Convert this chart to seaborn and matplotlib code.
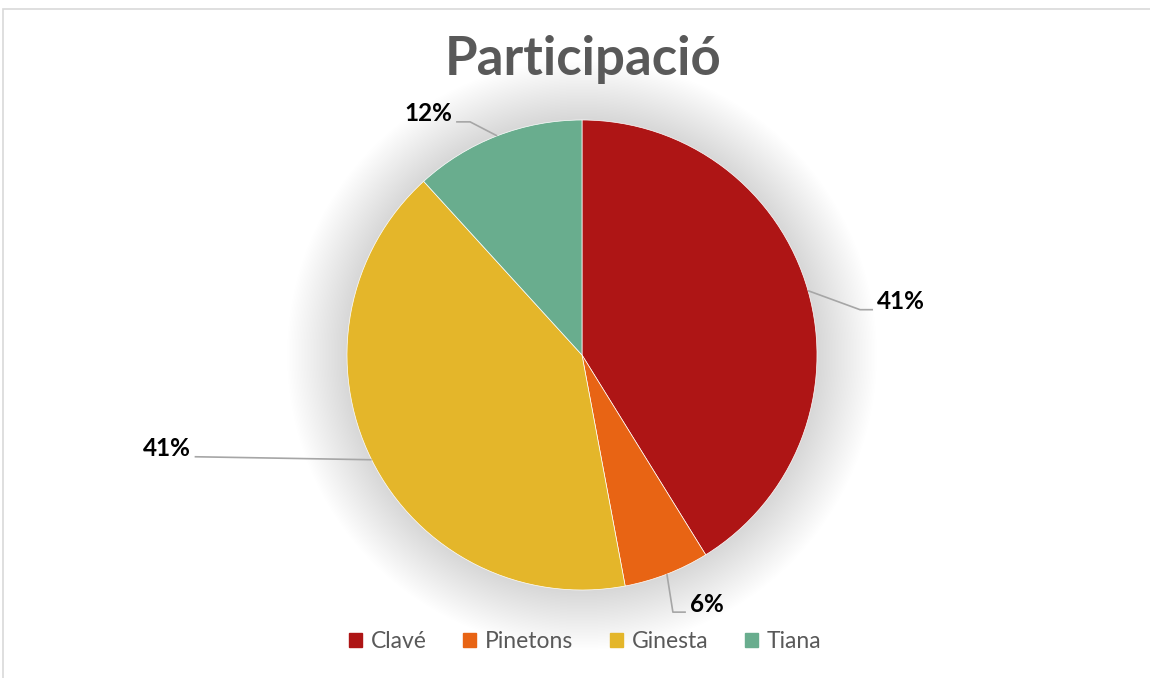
import numpy as np
import matplotlib
matplotlib.use("Agg")
import matplotlib.pyplot as plt
import seaborn as sns
from matplotlib.patches import Rectangle, Circle

categories = ["Clavé", "Pinetons", "Ginesta", "Tiana"]
values = [14, 2, 14, 4]
colors_hex = ["#AE1515", "#E86414", "#E4B62A", "#69AD8E"]
title = "Participació"

sns.set_theme(style="white")
plt.rcParams['font.family'] = ['Lato', 'DejaVu Sans']
palette = sns.color_palette(colors_hex)

W, H = 1150, 678
fig = plt.figure(figsize=(W / 100, H / 100), dpi=100)
ax = fig.add_axes([0, 0, 1, 1])
ax.set_xlim(0, W)
ax.set_ylim(0, H)
ax.set_aspect("equal")
ax.axis("off")

# frame
fig.patches.append(Rectangle((3 / W, -0.1), 1.2, (H - 9) / H + 0.1, transform=fig.transFigure,
                             fill=False, edgecolor="#D9D9D9", lw=1.2))

cx, cy, R = 582, H - 355, 235

# soft shadow glow
for k in range(40, 0, -1):
    ax.add_patch(Circle((cx, cy), R + k * 1.5, color="#000000", alpha=0.0035, lw=0, zorder=1))

wedges, _ = ax.pie(values, colors=palette, startangle=90, counterclock=False,
                   center=(cx, cy), radius=R, wedgeprops=dict(lw=0.5, edgecolor="white"),
                   frame=True)
for w in wedges:
    w.set_zorder(2)
ax.set_xlim(0, W)
ax.set_ylim(0, H)
ax.axis("off")

total = sum(values)
pcts = [f"{round(v / total * 100):.0f}%" for v in values]

leaders = {
    0: dict(elbow=(52, -19), hlen=13, ha="left"),
    1: dict(elbow=(6, -38), hlen=13, ha="left"),
    2: dict(elbow=(-177, 3), hlen=0, ha="right"),
    3: dict(elbow=(-27, 14), hlen=-14, ha="right"),
}
cum = np.cumsum([0] + values)
for i, v in enumerate(values):
    mid = (cum[i] + cum[i + 1]) / 2 / total * 360
    theta = np.deg2rad(90 - mid)
    ex, ey = cx + R * np.cos(theta), cy + R * np.sin(theta)
    L = leaders[i]
    bx, by = ex + L["elbow"][0], ey + L["elbow"][1]
    tx = bx + L["hlen"]
    ax.plot([ex, bx, tx], [ey, by, by], color="#A6A6A6", lw=1.2, zorder=3, solid_capstyle="butt")
    off = 4 if L["ha"] == "left" else -4
    ax.text(tx + off, by + 8, pcts[i], ha=L["ha"], va="center", fontsize=17.5,
            fontweight="bold", color="#000000", zorder=4)

fig.text(0.507, 1 - 60 / H, title, ha="center", va="center", fontsize=38,
         fontweight="bold", color="#595959")

handles = [Rectangle((0, 0), 1, 1, color=c) for c in palette]
fig.legend(handles, categories, loc="center", bbox_to_anchor=(0.509, 1 - 642 / H), ncol=4,
           frameon=False, fontsize=16.5, labelcolor="#595959", handlelength=0.55, handleheight=0.55,
           handletextpad=0.4, columnspacing=1.6)

fig.savefig("out.png", dpi=100)
